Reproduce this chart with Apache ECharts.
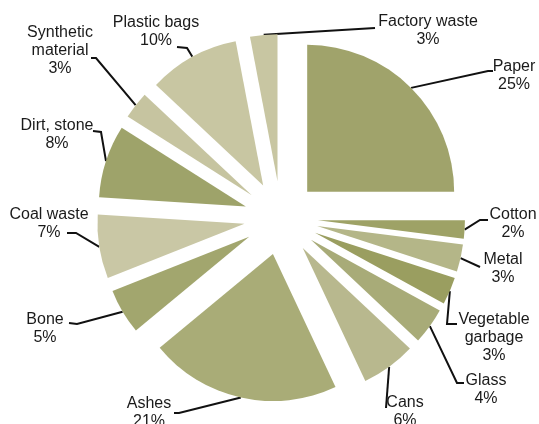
<!DOCTYPE html>
<html>
<head>
<meta charset="utf-8">
<script src="https://cdn.jsdelivr.net/npm/echarts@6/dist/echarts.min.js"></script>
<style>
html,body{margin:0;padding:0;background:#fff;}
#chart{width:539px;height:424px;}
</style>
</head>
<body>
<div id="chart"></div>
<script>
// ---- Data (clockwise from 12 o'clock) ----
const categories = ['Paper', 'Cotton', 'Metal', 'Vegetable\ngarbage', 'Glass', 'Cans', 'Ashes', 'Bone', 'Coal waste', 'Dirt, stone', 'Synthetic\nmaterial', 'Plastic bags', 'Factory waste'];
const shares = [25, 2, 3, 3, 4, 6, 21, 5, 7, 8, 3, 10, 3];

// ---- Styles / layout (not data) ----
const colors = ['#A0A36B', '#9EA266', '#B4B688', '#9A9E60', '#A8AB78', '#B8B88E', '#A9AC77', '#A2A66E', '#C9C7A5', '#9EA36A', '#C6C4A0', '#C8C6A2', '#C8C6A2'];
const pieCenter = [281, 218];
const pieRadius = 147;
const explode = 37;
// label block centre and leader-line bend points (after the arc start point)
const labelCentres = [[514, 76], [513, 224], [503, 269], [494, 338], [486, 390], [405, 412], [149, 413], [45, 329], [49, 224], [57, 135], [60, 51], [156, 32], [428, 31]];
const leaderBends = [
  [[488, 71], [493, 71]],
  [[480, 220], [488, 220]],
  [[480, 267]],
  [[447, 324], [457, 324]],
  [[457, 383], [464, 383]],
  [[386, 408]],
  [[179, 413], [174, 413]],
  [[77, 324], [69, 323]],
  [[76, 233], [67, 233]],
  [[101, 132], [93, 131]],
  [[96, 58], [91, 58]],
  [[187, 48], [177, 47]],
  [[375, 28]]
];

const total = shares.reduce((a, b) => a + b, 0);
const font = 'Liberation Sans, Arial, sans-serif';

let cum = 0;
const series = shares.map((v, k) => {
  const midFrac = (cum + v / 2) / total;
  cum += v;
  const ang = midFrac * 2 * Math.PI; // clockwise from 12 o'clock
  const cx = pieCenter[0] + explode * Math.sin(ang);
  const cy = pieCenter[1] - explode * Math.cos(ang);
  return {
    type: 'pie',
    center: [cx, cy],
    radius: [0, pieRadius],
    startAngle: 90,
    clockwise: true,
    avoidLabelOverlap: false,
    silent: true,
    animation: false,
    emphasis: {disabled: true},
    labelLayout: function (params) {
      if (params.dataIndex !== k) return {};
      const start = params.labelLinePoints ? params.labelLinePoints[0] : [cx, cy];
      return {
        x: labelCentres[k][0],
        y: labelCentres[k][1],
        align: 'center',
        verticalAlign: 'middle',
        labelLinePoints: [start].concat(leaderBends[k])
      };
    },
    data: categories.map((name, i) => ({
      name: name,
      value: shares[i],
      itemStyle: {color: i === k ? colors[i] : 'rgba(0,0,0,0)', borderWidth: 0},
      label: {
        show: i === k,
        position: 'outside',
        formatter: '{b}\n{c}%',
        color: '#1a1a1a',
        fontFamily: font,
        fontSize: 16,
        lineHeight: 18
      },
      labelLine: {
        show: i === k,
        length: 10,
        length2: 10,
        smooth: false,
        lineStyle: {color: '#111111', width: 2}
      }
    }))
  };
});

const chart = echarts.init(document.getElementById('chart'), null, {renderer: 'canvas'});
chart.setOption({
  animation: false,
  backgroundColor: '#ffffff',
  series: series
});
</script>
</body>
</html>
